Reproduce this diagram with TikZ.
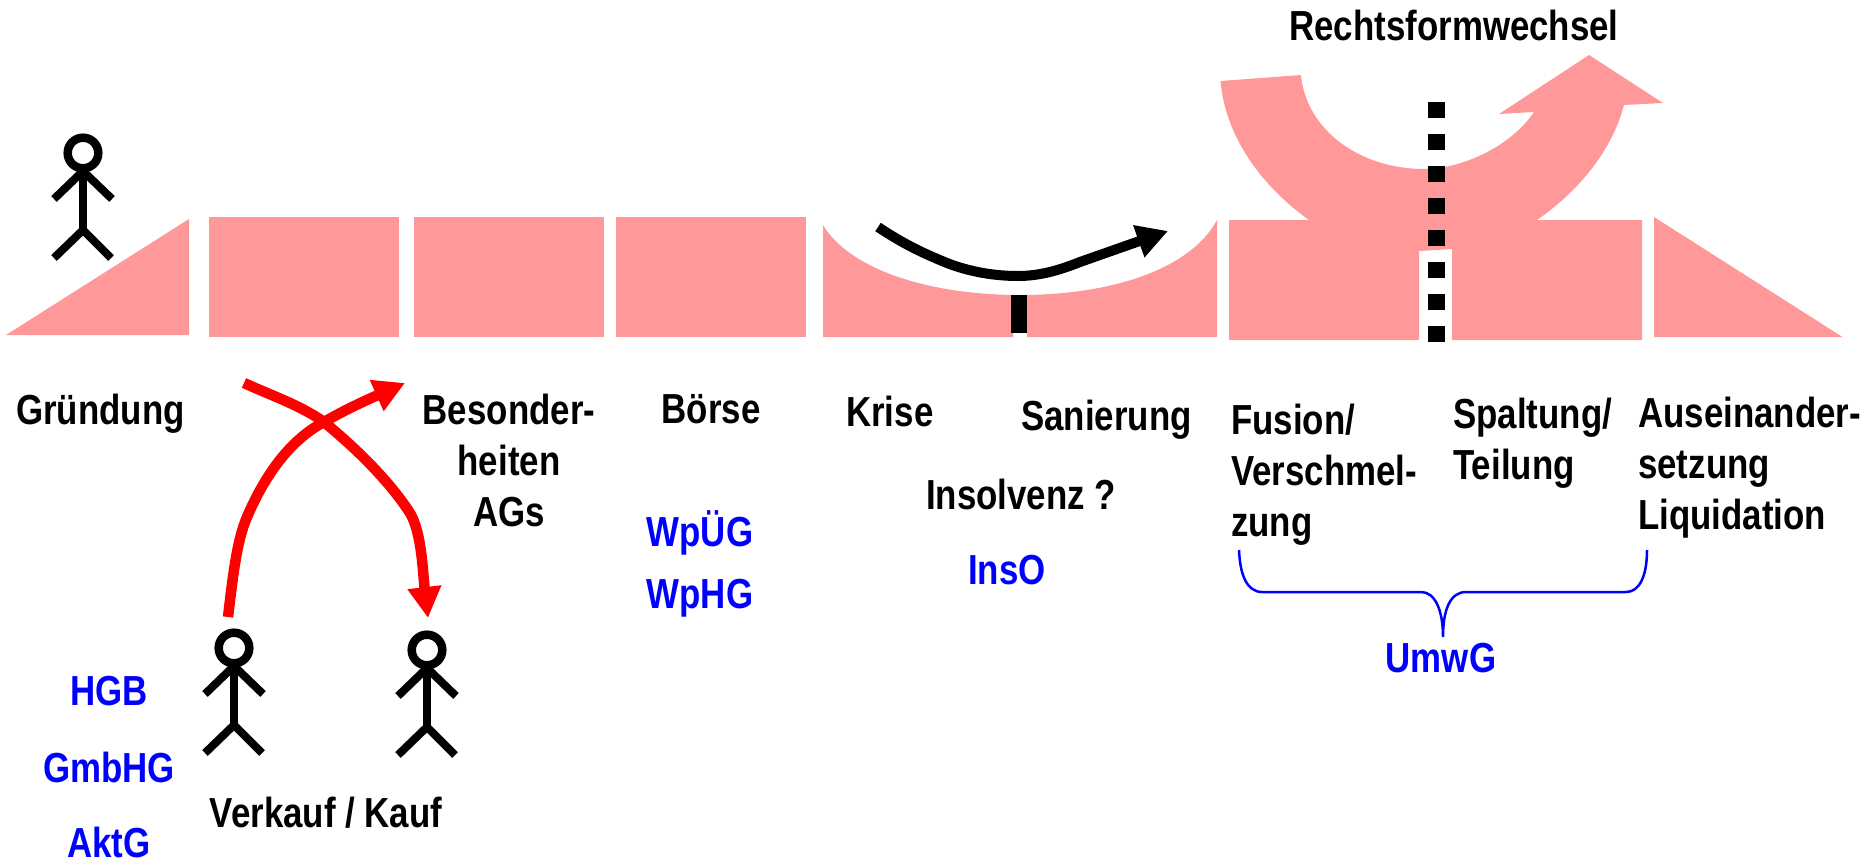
\documentclass[tikz,border=0pt]{standalone}
\usepackage{fontspec}
\setmainfont{Liberation Sans}[FakeStretch=0.83]
\usetikzlibrary{arrows.meta}
\definecolor{band}{HTML}{FF9999}
\definecolor{lawblue}{HTML}{0000FF}
\tikzset{
  x=1pt,y=-1pt,
  bandfill/.style={fill=band,draw=none},
  lbl/.style={font=\fontsize{42}{51}\selectfont\bfseries,text=black,align=left,inner sep=0pt,anchor=base west},
  lblc/.style={lbl,align=center,anchor=base},
  law/.style={font=\fontsize{42}{51}\selectfont\bfseries,text=lawblue,inner sep=0pt,anchor=base},
  flow/.style={-{Triangle[length=31pt,width=32pt]}},
  redflow/.style={flow,draw=red,line width=10.5pt},
  blackflow/.style={flow,draw=black,line width=10pt},
  limb/.style={draw=black,line width=8pt},
  person/.pic={
    \draw[draw=black,line width=8.5pt] (0,-4) circle[radius=15.3];
    \draw[limb] (-29,42) -- (0,14) -- (29,42);
    \draw[limb] (0,14) -- (0,73);
    \draw[limb] (-29,101) -- (0,73) -- (28,101);
  },
}
\begin{document}
\begin{tikzpicture}
\useasboundingbox (0,0) rectangle (1868,862);
% band pieces
\fill[bandfill] (6,335) -- (189,219) -- (189,335) -- cycle;
\fill[bandfill] (209,217) rectangle (399,337);
\fill[bandfill] (414,217) rectangle (604,337);
\fill[bandfill] (616,217) rectangle (806,337);
\fill[bandfill] (823,225) .. controls (850,270) and (930,295) .. (1020,295)
  .. controls (1110,295) and (1190,270) .. (1217,220)
  -- (1217,337) -- (1027,337) -- (1027,333) -- (1013,333) -- (1013,337) -- (823,337) -- cycle;
\fill[bandfill] (1229,220) -- (1309,220)
  .. controls (1260,185) and (1225,135) .. (1220.5,81)
  -- (1301,75)
  .. controls (1306,130) and (1360,169) .. (1424,169)
  -- (1445,167)
  .. controls (1480,160) and (1515,140) .. (1534,112)
  -- (1499,114) -- (1589,55) -- (1663,103) -- (1624,105)
  .. controls (1612,150) and (1580,190) .. (1537,220)
  -- (1642,220) -- (1642,340) -- (1452,340) -- (1452,249) -- (1419,251) -- (1419,340) -- (1229,340) -- cycle;
\fill[bandfill] (1654,217) -- (1842.5,337) -- (1654,337) -- cycle;
% divider marks
\coordinate (s1) at (1019,295);
\coordinate (s2) at (1019,333);
\draw[black,line width=16pt] (s1) -- (s2);
\coordinate (d1) at (1436,102);
\coordinate (d2) at (1436,342);
\draw[black,line width=17pt,dash pattern=on 16pt off 16pt] (d1) -- (d2);
% people
\pic at (83,157) {person};
\pic at (234,652) {person};
\pic at (427,654) {person};
% arrows
\coordinate (b1) at (878,227);
\coordinate (b2) at (1168,231);
\draw[blackflow] (b1) .. controls (905,245) and (925,254) .. (947,263)
  .. controls (970,272) and (995,276) .. (1018,276)
  .. controls (1040,276) and (1060,270) .. (1080,262) -- (b2);
\coordinate (r1) at (228,617);
\coordinate (r2) at (405,383);
\coordinate (r3) at (244,383);
\coordinate (r4) at (428,618);
\draw[redflow] (r1) .. controls (233,575) and (237,540) .. (247,517)
  .. controls (265,475) and (290,440) .. (324,422) .. controls (345,410) and (360,403) .. (r2);
\draw[redflow] (r3) .. controls (270,395) and (300,405) .. (324,422)
  .. controls (358,450) and (390,482) .. (410,513) .. controls (422,533) and (423,575) .. (r4);
% brace
\coordinate (p1) at (1239,550);
\coordinate (p2) at (1647,550);
\coordinate (p3) at (1443,637);
\draw[lawblue,line width=2.5pt] (p1) .. controls (1240,575) and (1247,592) .. (1262,592)
  -- (1421,592) .. controls (1435,592) and (1443,610) .. (p3)
  .. controls (1443,610) and (1450,592) .. (1466,592)
  -- (1626,592) .. controls (1640,592) and (1647,575) .. (p2);
% labels
\node[lblc] (t1) at (1454,40) {Rechtsformwechsel};
\node[lbl] (t2) at (16,424) {Gründung};
\node[lblc] (t3) at (509,526) {Besonder-\\heiten\\AGs};
\node[lblc] (t4) at (711,423) {Börse};
\node[lbl] (t5) at (846,426) {Krise};
\node[lbl] (t6) at (1021,430) {Sanierung};
\node[lbl] (t7) at (926,509) {Insolvenz ?};
\node[lbl] (t8) at (1231,536) {Fusion/\\Verschmel-\\zung};
\node[lbl] (t9) at (1453,479) {Spaltung/\\Teilung};
\node[lbl] (t10) at (1638,529) {Auseinander-\\setzung\\Liquidation};
\node[lblc] (t11) at (326,827) {Verkauf / Kauf};
\node[law] (l1) at (109,705) {HGB};
\node[law] (l2) at (109,782) {GmbHG};
\node[law] (l3) at (109,857) {AktG};
\node[law] (l4) at (700,546) {WpÜG};
\node[law] (l5) at (700,608) {WpHG};
\node[law] (l6) at (1007,584) {InsO};
\node[law] (l7) at (1441,672) {UmwG};
\end{tikzpicture}
\end{document}
